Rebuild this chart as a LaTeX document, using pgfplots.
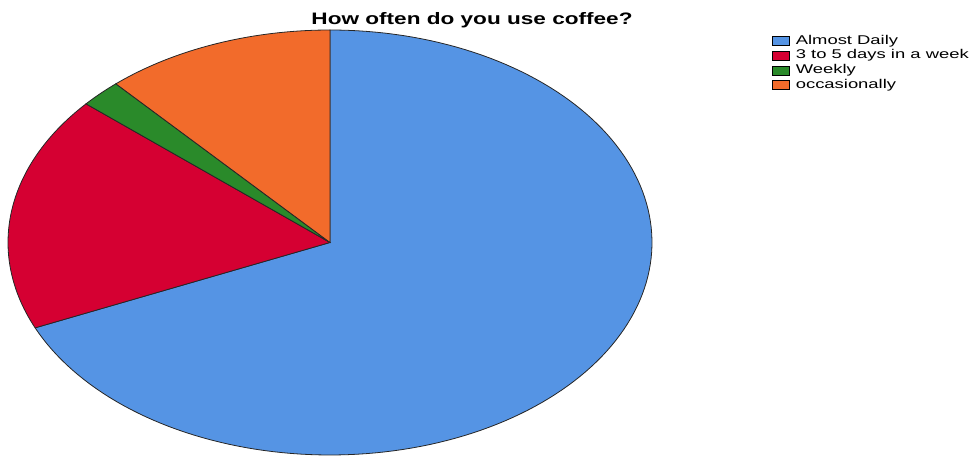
\documentclass[border=0pt]{standalone}
\usepackage{pgfplots}
\pgfplotsset{compat=1.18}
\usepackage{fontspec}
\setmainfont{Liberation Sans}
\newfontfamily\titlefont[FakeStretch=1.36]{Liberation Sans}
\newfontfamily\legfont[FakeStretch=1.45]{Liberation Sans}
\definecolor{cblue}{HTML}{5594E4}
\definecolor{cred}{HTML}{D50032}
\definecolor{cgreen}{HTML}{2A8A2A}
\definecolor{corange}{HTML}{F26B2B}
% counts
\def\nA{65}\def\nB{17}\def\nC{2}\def\nD{11}
\pgfmathsetmacro\tot{\nA+\nB+\nC+\nD}
\pgfmathsetmacro\aA{90-360*(\nA/\tot)}
\pgfmathsetmacro\aB{90-360*((\nA+\nB)/\tot)}
\pgfmathsetmacro\aC{90-360*((\nA+\nB+\nC)/\tot)}
\pgfmathsetmacro\aD{90-360*((\nA+\nB+\nC+\nD)/\tot)}
\def\cx{330}\def\cy{214.5}\def\ra{322}\def\rb{212.5}
\begin{document}
\begin{tikzpicture}
\begin{axis}[
  scale only axis, width=971bp, height=457bp,
  xmin=0, xmax=971, ymin=0, ymax=457,
  hide axis, clip=false,
  area legend,
  legend image code/.code={\draw[#1,draw=black,line width=0.6bp] (0bp,-4.5bp) rectangle (17bp,4.5bp);},
  legend style={at={(axis cs:772,422)}, anchor=north west, draw=none, fill=none,
    inner sep=0pt, row sep=2.7bp, font=\fontsize{12.7bp}{14bp}\legfont,
    nodes={inner sep=0pt, text height=9bp, text depth=3bp, anchor=west},
    /tikz/every odd column/.append style={column sep=6bp}},
  legend cell align=left,
]
\path (axis cs:0,0) rectangle (axis cs:971,457);
\addplot[fill=cblue, draw=black!85, line width=0.8bp, domain=\aA:90, samples=150]
  ({\cx+\ra*cos(x)},{\cy+\rb*sin(x)}) -- (\cx,\cy) -- cycle;
\addlegendentry{Almost Daily}
\addplot[fill=cred, draw=black!85, line width=0.8bp, domain=\aB:\aA, samples=60]
  ({\cx+\ra*cos(x)},{\cy+\rb*sin(x)}) -- (\cx,\cy) -- cycle;
\addlegendentry{3 to 5 days in a week}
\addplot[fill=cgreen, draw=black!85, line width=0.8bp, domain=\aC:\aB, samples=20]
  ({\cx+\ra*cos(x)},{\cy+\rb*sin(x)}) -- (\cx,\cy) -- cycle;
\addlegendentry{Weekly}
\addplot[fill=corange, draw=black!85, line width=0.8bp, domain=\aD:\aC, samples=40]
  ({\cx+\ra*cos(x)},{\cy+\rb*sin(x)}) -- (\cx,\cy) -- cycle;
\addlegendentry{occasionally}
\node[anchor=base, inner sep=0pt, font=\fontsize{16.6bp}{19bp}\titlefont\bfseries] at (axis cs:472,432) {How often do you use coffee?};
\end{axis}
\end{tikzpicture}
\end{document}
